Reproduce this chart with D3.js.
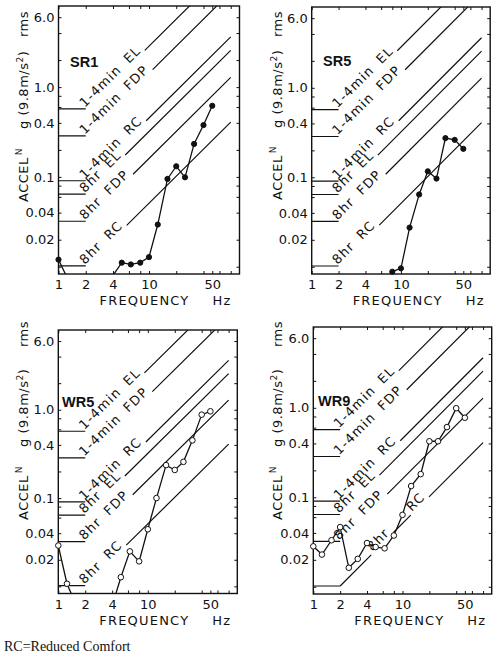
<!DOCTYPE html>
<html>
<head>
<meta charset="utf-8">
<script src="https://cdn.jsdelivr.net/npm/d3@7"></script>
<style>
body{margin:0;background:#fff;}
svg text{font-family:"DejaVu Sans",sans-serif;fill:#111;}
.lim{font-size:13px;letter-spacing:1.2px;word-spacing:4px;}
.tk text{font-size:13px;}
.ttl{font-size:13px;letter-spacing:0.5px;}
.plab{font-family:"Liberation Sans",Arial,sans-serif !important;font-weight:bold;font-size:14.5px;}
</style>
</head>
<body>
<svg id="chart" width="494" height="658"></svg>
<script>
// 1/3 octave band centres (Hz)
var bands = [1, 1.25, 1.6, 2, 2.5, 3.15, 4, 5, 6.3, 8, 10, 12.5, 16, 20, 25, 31.5, 40, 50];
var sr1 = [0.012, 0.0075, 0.005, 0.005, 0.005, 0.005, 0.008, 0.0111, 0.0106, 0.0111, 0.0128, 0.0295, 0.095, 0.1315, 0.099, 0.233, 0.378, 0.62];
var sr5Bands = [8, 10, 12.5, 16, 20, 25, 31.5, 40, 50];
var sr5 = [0.0088, 0.0096, 0.0274, 0.0643, 0.1166, 0.0968, 0.274, 0.262, 0.208];
var wr5 = [0.029, 0.0107, 0.006, 0.005, 0.005, 0.005, 0.006, 0.0127, 0.0249, 0.0192, 0.0443, 0.1, 0.236, 0.208, 0.257, 0.45, 0.88, 0.96];
var wr9 = [0.0283, 0.0229, 0.0331, 0.0464, 0.0163, 0.0205, 0.0308, 0.0278, 0.0269, 0.0374, 0.0636, 0.1336, 0.1815, 0.4227, 0.4227, 0.609, 0.99, 0.774];

// ISO limit lines: flat 1-2 Hz, rising with f from 2 to 80 Hz
var limitNames = ["1-4min EL", "1-4min FDP", "1-4min RC", "8hr EL", "8hr FDP", "8hr RC"];
var limitLevels = [0.571, 0.2857, 0.0907, 0.0642, 0.0321, 0.0102];

var yTicks = [6.0, 1.0, 0.4, 0.1, 0.04, 0.02];
var yTickLabels = ["6.0", "1.0", "0.4", "0.1", "0.04", "0.02"];
var yMinor = [0.01, 0.02, 0.04, 0.06, 0.08, 0.1, 0.2, 0.4, 0.6, 0.8, 1, 2, 4, 6];
var xTicks = [1, 2, 4, 10, 50];
var xMinor = [1, 2, 4, 6, 8, 10, 20, 40, 50, 60, 80];

var svg = d3.select("#chart");

var panels = [
  {name:"SR1", box:[58.5, 6, 181, 268], f:bands, v:sr1, filled:true, lab:[70, 67], tx:28, ty:[202, 129, 37]},
  {name:"SR5", box:[311.7, 7, 178.5, 267], f:sr5Bands, v:sr5, filled:true, lab:[323, 66], tx:281.5, ty:[200, 128, 37]},
  {name:"WR5", box:[58.3, 330, 179, 263.5], f:bands, v:wr5, filled:false, lab:[62, 407], tx:27.5, ty:[520, 447, 347]},
  {name:"WR9", box:[313.3, 327, 178.4, 267], f:bands, v:wr9, filled:false, lab:[318, 406], tx:281.5, ty:[520, 447, 347],
   split:{"8hr RC":[["8hr", 47], ["RC", 103]]}}
];

panels.forEach(function(p, pi){
  var bx = p.box[0], by = p.box[1], bw = p.box[2], bh = p.box[3];
  var x = d3.scaleLog().domain([1, 100]).range([bx, bx + bw]);
  var y = d3.scaleLog().domain([0.0083, 8]).range([by + bh, by]);
  var g = svg.append("g");

  svg.append("clipPath").attr("id", "clip" + pi)
    .append("rect").attr("x", bx).attr("y", by).attr("width", bw).attr("height", bh);

  // ticks
  g.append("g").attr("class", "tk").attr("transform", "translate(" + bx + ",0)")
    .call(d3.axisLeft(y).tickValues(yMinor).tickSize(-3).tickPadding(4)
      .tickFormat(function(d){ var i = yTicks.indexOf(d); return i < 0 ? "" : yTickLabels[i]; }));
  g.append("g").attr("class", "tk").attr("transform", "translate(" + (bx + bw) + ",0)")
    .call(d3.axisRight(y).tickValues(yMinor).tickSize(-3).tickFormat(""));
  g.append("g").attr("class", "tk").attr("transform", "translate(0," + (by + bh) + ")")
    .call(d3.axisBottom(x).tickValues(xMinor).tickSize(-3).tickPadding(6)
      .tickFormat(function(d){ return xTicks.indexOf(d) < 0 ? "" : d; }));
  g.append("g").attr("class", "tk").attr("transform", "translate(0," + by + ")")
    .call(d3.axisTop(x).tickValues(xMinor).tickSize(-3).tickFormat(""));
  g.selectAll(".domain").remove();
  g.selectAll(".tk line").attr("stroke", "#111").attr("stroke-width", 1);
  g.selectAll(".tk text").attr("fill", "#111");

  g.append("rect").attr("x", bx).attr("y", by).attr("width", bw).attr("height", bh)
    .attr("fill", "none").attr("stroke", "#111").attr("stroke-width", 1.4);

  // limit lines with their labels
  var lg = g.append("g").attr("clip-path", "url(#clip" + pi + ")");
  limitLevels.forEach(function(lv, li){
    var name = limitNames[li];
    var x1 = x(1), x2 = x(2), y0 = y(lv);
    var ex = x(80), ey = y(lv * 40);
    var len = Math.hypot(ex - x2, ey - y0);
    var ux = (ex - x2) / len, uy = (ey - y0) / len;
    var ang = Math.atan2(uy, ux) * 180 / Math.PI;
    var pieces = (p.split && p.split[name]) || [[name, 0]];
    var gaps = [];
    pieces.forEach(function(pc){
      var t = g.append("text").attr("class", "lim")
        .attr("transform", "translate(" + (x2 + ux * pc[1]) + "," + (y0 + uy * pc[1]) + ") rotate(" + ang + ")")
        .attr("dy", -1.5).text(pc[0]);
      gaps.push([pc[1] - (pc[1] > 0 ? 3 : 0), pc[1] + t.node().getComputedTextLength() + 3]);
    });
    var d = "M" + x1 + "," + y0 + "L" + x2 + "," + y0;
    var s = 0;
    gaps.forEach(function(gp){
      if (gp[0] > s) d += "M" + (x2 + ux * s) + "," + (y0 + uy * s) + "L" + (x2 + ux * gp[0]) + "," + (y0 + uy * gp[0]);
      s = gp[1];
    });
    d += "M" + (x2 + ux * s) + "," + (y0 + uy * s) + "L" + ex + "," + ey;
    lg.append("path").attr("d", d).attr("fill", "none").attr("stroke", "#111").attr("stroke-width", 1.2);
  });

  // measured spectrum
  var pts = p.f.map(function(f, i){ return {f:f, v:p.v[i]}; });
  g.append("path").datum(pts).attr("clip-path", "url(#clip" + pi + ")")
    .attr("d", d3.line().x(function(d){ return x(d.f); }).y(function(d){ return y(d.v); }))
    .attr("fill", "none").attr("stroke", "#111").attr("stroke-width", 1.3);
  g.selectAll("circle.pt").data(pts.filter(function(d){ return d.v >= 0.0083; })).enter()
    .append("circle").attr("class", "pt")
    .attr("cx", function(d){ return x(d.f); }).attr("cy", function(d){ return y(d.v); })
    .attr("r", p.filled ? 2.6 : 2.8)
    .attr("fill", p.filled ? "#111" : "#fff").attr("stroke", "#111").attr("stroke-width", 1);

  // panel label
  g.append("text").attr("class", "plab").attr("x", p.lab[0]).attr("y", p.lab[1]).text(p.name);

  // axis titles
  var t1 = g.append("text").attr("class", "ttl").attr("transform", "translate(" + p.tx + "," + p.ty[0] + ") rotate(-90)");
  t1.append("tspan").text("ACCEL");
  t1.append("tspan").attr("dx", 2).attr("dy", -6).attr("font-size", 9).text("N");
  var t2 = g.append("text").attr("class", "ttl").attr("transform", "translate(" + p.tx + "," + p.ty[1] + ") rotate(-90)");
  t2.append("tspan").text("g (9.8m/s");
  t2.append("tspan").attr("dy", -5).attr("font-size", 9).text("2");
  t2.append("tspan").attr("dy", 5).text(")");
  g.append("text").attr("class", "ttl").attr("transform", "translate(" + p.tx + "," + p.ty[2] + ") rotate(-90)").text("rms");

  g.append("text").attr("class", "ttl").attr("x", bx + 41).attr("y", by + bh + 31)
    .style("letter-spacing", "1.2px").text("FREQUENCY");
  g.append("text").attr("class", "ttl").attr("x", bx + 154).attr("y", by + bh + 31)
    .style("letter-spacing", "1.2px").text("Hz");
});

svg.append("text").attr("x", 4).attr("y", 651)
  .style("font-family", "'Liberation Serif','Times New Roman',serif").style("font-size", "14px")
  .text("RC=Reduced Comfort");
</script>
</body>
</html>
